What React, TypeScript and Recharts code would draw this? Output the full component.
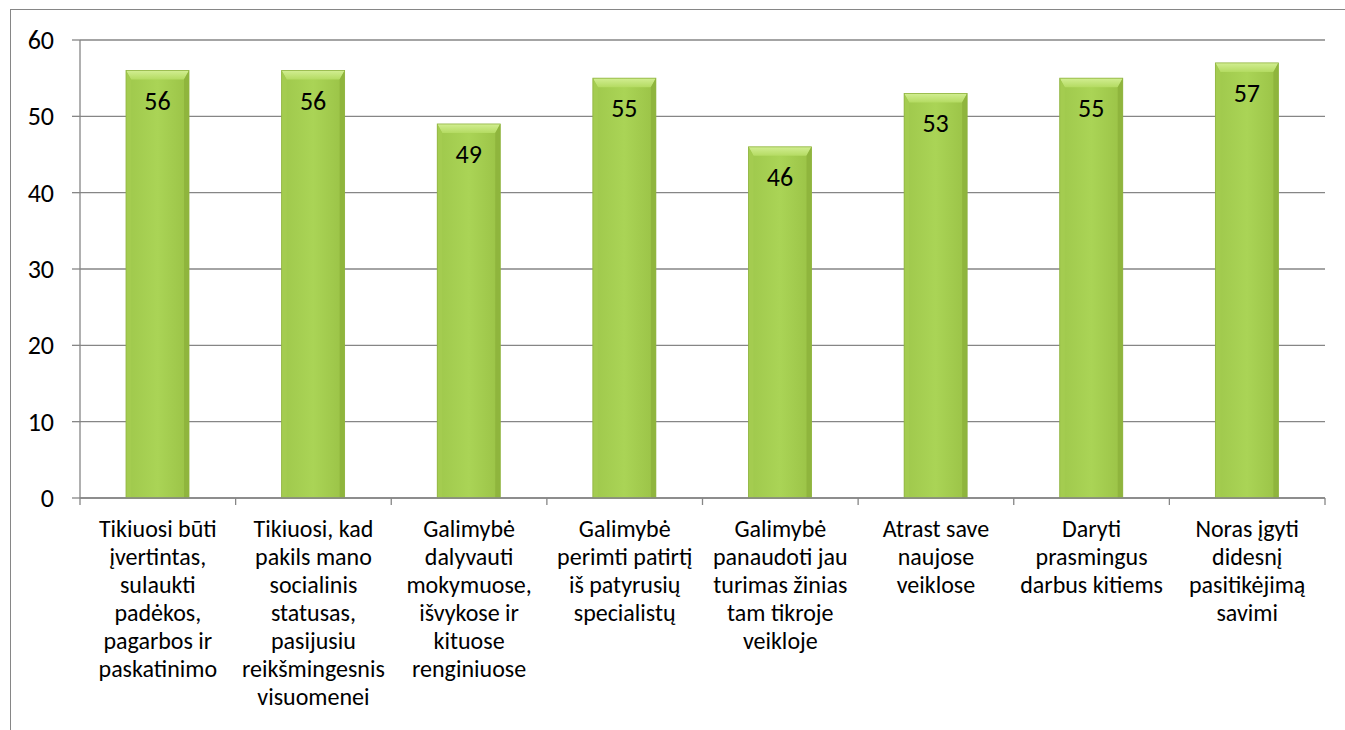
import React from 'react';
import { BarChart, Bar, XAxis, YAxis, CartesianGrid, LabelList } from 'recharts';

const categories: string[] = [
  'Tikiuosi būti\nįvertintas,\nsulaukti\npadėkos,\npagarbos ir\npaskatinimo',
  'Tikiuosi, kad\npakils mano\nsocialinis\nstatusas,\npasijusiu\nreikšmingesnis\nvisuomenei',
  'Galimybė\ndalyvauti\nmokymuose,\nišvykose ir\nkituose\nrenginiuose',
  'Galimybė\nperimti patirtį\niš patyrusių\nspecialistų',
  'Galimybė\npanaudoti jau\nturimas žinias\ntam tikroje\nveikloje',
  'Atrast save\nnaujose\nveiklose',
  'Daryti\nprasmingus\ndarbus kitiems',
  'Noras įgyti\ndidesnį\npasitikėjimą\nsavimi',
];
const values: number[] = [56, 56, 49, 55, 46, 53, 55, 57];
const yTicks: number[] = [0, 10, 20, 30, 40, 50, 60];

const data = categories.map((c, i) => ({ name: c, value: values[i] }));

const FONT = 'Carlito, Calibri, Lato, "Open Sans", sans-serif';
const GRAY = '#868686';

const BevelBar = (props: any) => {
  const { x, y, width, height } = props;
  if (!height || height <= 0) return null;
  const b = 9;
  const s = 5;
  return (
    <g>
      <rect x={x} y={y} width={width} height={height} fill="url(#barGrad)" />
      <polygon points={`${x},${y} ${x + width},${y} ${x + width - s},${y + b} ${x + s},${y + b}`} fill="url(#topGrad)" />
      <polygon points={`${x},${y} ${x + s},${y + b} ${x + s},${y + height} ${x},${y + height}`} fill="#a4cc50" />
      <polygon points={`${x + width},${y} ${x + width - s},${y + b} ${x + width - s},${y + height} ${x + width},${y + height}`} fill="#8fb53d" />
      <rect x={x} y={y} width={width} height={height} fill="none" stroke="#8fb33f" strokeWidth={0.8} />
    </g>
  );
};

const XTick = (props: any) => {
  const { x, y, payload, index } = props;
  const half = payload.offset || 0;
  const lines = String(payload.value).split('\n');
  return (
    <g>
      <line x1={x - half} y1={y} x2={x - half} y2={y + 7} stroke={GRAY} strokeWidth={1.3} />
      {index === categories.length - 1 && (
        <line x1={x + half} y1={y} x2={x + half} y2={y + 7} stroke={GRAY} strokeWidth={1.3} />
      )}
      <text x={x} y={y + 30} textAnchor="middle" fontFamily={FONT} fontSize={24} fill="#000">
        {lines.map((l, i) => (
          <tspan key={i} x={x} dy={i === 0 ? 0 : 28} dominantBaseline="central">
            {l}
          </tspan>
        ))}
      </text>
    </g>
  );
};

const YTick = (props: any) => {
  const { x, y, payload } = props;
  return (
    <text x={x} y={y} textAnchor="end" dominantBaseline="central" fontFamily={FONT} fontSize={26} fill="#000">
      {payload.value}
    </text>
  );
};

const BarLabel = (props: any) => {
  const { x, y, width, value } = props;
  return (
    <text x={x + width / 2} y={y + 30} textAnchor="middle" dominantBaseline="central" fontFamily={FONT} fontSize={26} fill="#000">
      {value}
    </text>
  );
};

export default function App() {
  return (
    <div style={{ position: 'absolute', left: 0, top: 0, width: 1345, height: 730, overflow: 'hidden', background: '#fff' }}>
      <div
        style={{
          position: 'absolute',
          left: 10,
          top: 9,
          width: 1400,
          height: 800,
          border: `1.5px solid ${GRAY}`,
        }}
      />
      <div style={{ position: 'absolute', left: 0, top: 0 }}>
        <BarChart width={1345} height={730} data={data} margin={{ top: 40, right: 20, bottom: 0, left: 0 }} barCategoryGap={0}>
          <defs>
            <linearGradient id="barGrad" x1="0" y1="0" x2="1" y2="0">
              <stop offset="0%" stopColor="#9fc84c" />
              <stop offset="50%" stopColor="#aad456" />
              <stop offset="100%" stopColor="#9ac246" />
            </linearGradient>
            <linearGradient id="topGrad" x1="0" y1="0" x2="0" y2="1">
              <stop offset="0%" stopColor="#d2ee92" />
              <stop offset="100%" stopColor="#b4db62" />
            </linearGradient>
          </defs>
          <CartesianGrid vertical={false} stroke={GRAY} strokeWidth={1.3} />
          <XAxis
            dataKey="name"
            interval={0}
            height={232}
            tickLine={false}
            tickSize={0}
            tickMargin={0}
            axisLine={{ stroke: GRAY, strokeWidth: 1.3 }}
            tick={<XTick />}
          />
          <YAxis
            domain={[0, 60]}
            ticks={yTicks}
            width={80}
            tickSize={8}
            tickMargin={18}
            tickLine={{ stroke: GRAY, strokeWidth: 1.3 }}
            axisLine={{ stroke: GRAY, strokeWidth: 1.3 }}
            tick={<YTick />}
          />
          <Bar dataKey="value" barSize={63} shape={<BevelBar />} isAnimationActive={false}>
            <LabelList dataKey="value" content={<BarLabel />} />
          </Bar>
        </BarChart>
      </div>
    </div>
  );
}
